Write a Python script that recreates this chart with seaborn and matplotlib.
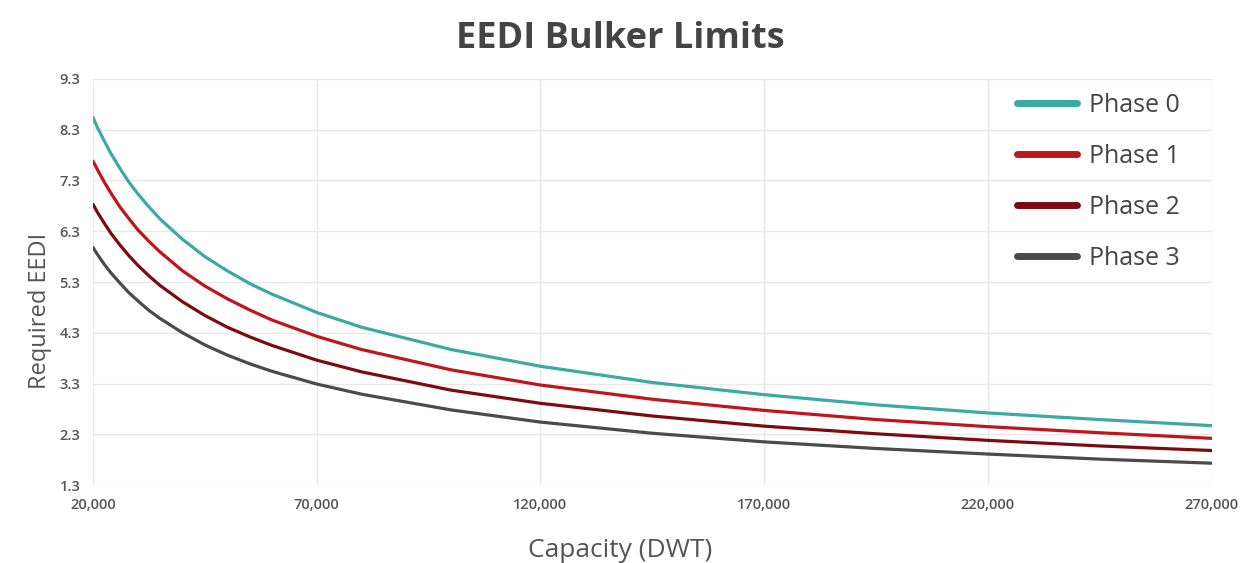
import pandas as pd
import matplotlib.pyplot as plt
import seaborn as sns
from matplotlib.lines import Line2D
from matplotlib.ticker import FuncFormatter

# values
capacity = [20000, 21000, 22500, 24000, 26000, 28000, 30000, 32500, 35000, 40000,
            45000, 50000, 55000, 60000, 70000, 80000, 100000, 120000, 145000, 170000,
            195000, 220000, 245000, 270000]
phase0 = [8.54, 8.34, 8.08, 7.83, 7.54, 7.27, 7.04, 6.78, 6.54, 6.14,
          5.80, 5.52, 5.27, 5.06, 4.70, 4.41, 3.97, 3.64, 3.32, 3.08,
          2.88, 2.72, 2.59, 2.47]
phase1 = [7.68, 7.51, 7.27, 7.05, 6.78, 6.55, 6.33, 6.10, 5.89, 5.52,
          5.22, 4.97, 4.75, 4.55, 4.23, 3.97, 3.57, 3.27, 2.99, 2.77,
          2.59, 2.45, 2.33, 2.22]
phase2 = [6.83, 6.67, 6.46, 6.26, 6.03, 5.82, 5.63, 5.42, 5.23, 4.91,
          4.64, 4.41, 4.22, 4.05, 3.76, 3.53, 3.17, 2.91, 2.66, 2.46,
          2.31, 2.18, 2.07, 1.98]
phase3 = [5.98, 5.84, 5.65, 5.48, 5.28, 5.09, 4.93, 4.74, 4.58, 4.30,
          4.06, 3.86, 3.69, 3.54, 3.29, 3.09, 2.78, 2.54, 2.32, 2.15,
          2.02, 1.91, 1.81, 1.73]

phases = ['Phase 0', 'Phase 1', 'Phase 2', 'Phase 3']
colors = ['#3aaaa2', '#c0151d', '#7d0a10', '#4b4b4d']
x_ticks = [20000, 70000, 120000, 170000, 220000, 270000]
y_ticks = [1.3, 2.3, 3.3, 4.3, 5.3, 6.3, 7.3, 8.3, 9.3]

df = pd.DataFrame({
    'Capacity': capacity * 4,
    'EEDI': phase0 + phase1 + phase2 + phase3,
    'Phase': [p for p in phases for _ in capacity],
})

sns.set_style('white')
plt.rcParams['font.family'] = ['Open Sans', 'DejaVu Sans']
text_color = '#555555'

fig = plt.figure(figsize=(12.49, 5.63), dpi=100)
ax = fig.add_axes([0.0745, 0.1385, 0.8955, 0.7212])

sns.lineplot(data=df, x='Capacity', y='EEDI', hue='Phase', palette=colors,
             linewidth=2.3, legend=False, ax=ax)

ax.set_xlim(20000, 270000)
ax.set_ylim(1.3, 9.3)
ax.set_xticks(x_ticks)
ax.set_yticks(y_ticks)
ax.xaxis.set_major_formatter(FuncFormatter(lambda v, p: f'{int(v):,}'))
ax.yaxis.set_major_formatter(FuncFormatter(lambda v, p: f'{v:.1f}'))
ax.grid(True, color='#e8e8e8', linewidth=1)
ax.set_axisbelow(True)
for s in ax.spines.values():
    s.set_visible(False)
ax.tick_params(length=0, labelsize=10.5, labelcolor=text_color, pad=9)
for lbl in ax.get_xticklabels() + ax.get_yticklabels():
    lbl.set_fontweight('semibold')

ax.set_xlabel('Capacity (DWT)', fontsize=19, color=text_color)
ax.set_ylabel('Required EEDI', fontsize=17, color=text_color)
ax.xaxis.set_label_coords(0.471, -0.13)
ax.yaxis.set_label_coords(-0.0365, 0.43)
fig.suptitle('EEDI Bulker Limits', fontsize=26, fontweight='bold', color='#444444',
             x=0.497, y=0.962)

handles = [Line2D([0], [0], color=c, lw=5, solid_capstyle='round') for c in colors]
ax.legend(handles, phases, loc='upper right', bbox_to_anchor=(0.992, 1.022),
          frameon=False, fontsize=18, labelcolor='#444444',
          handlelength=2.4, handletextpad=0.5, labelspacing=1.04,
          borderaxespad=0.5)

plt.savefig('out.png', dpi=100)
